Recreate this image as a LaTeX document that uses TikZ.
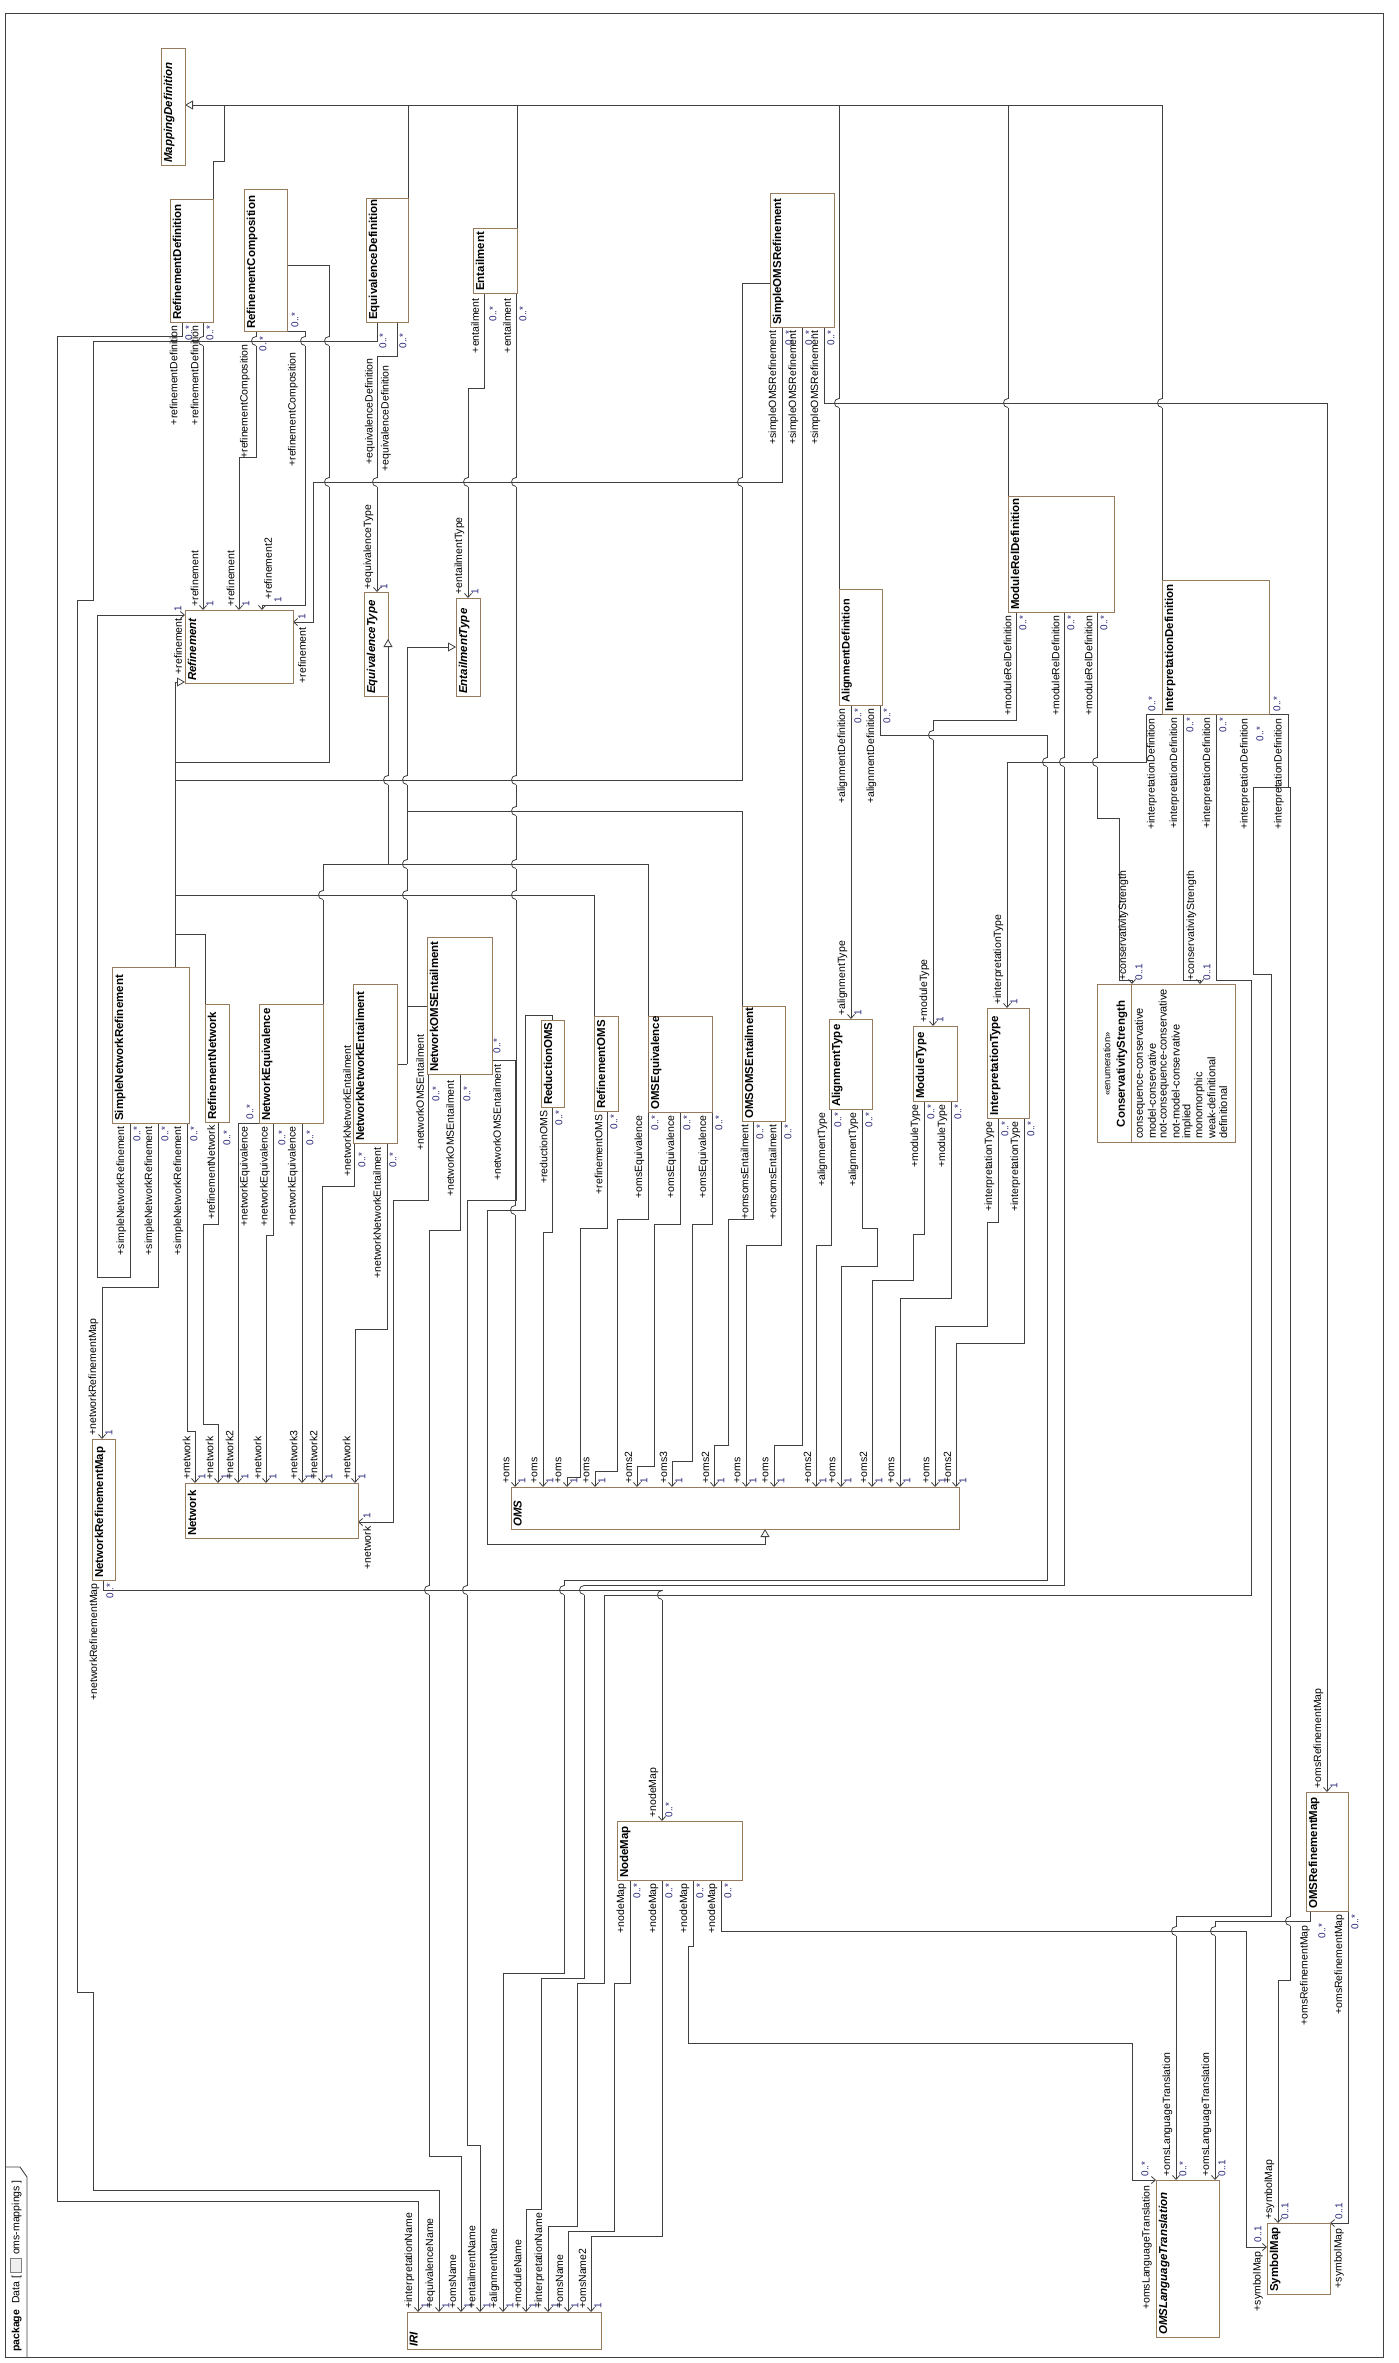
\documentclass[tikz,border=0pt]{standalone}
\usepackage{fontspec}
\setmainfont{Liberation Sans}
\usetikzlibrary{arrows.meta}
\pgfdeclarelayer{bg}
\pgfsetlayers{bg,main}
\definecolor{boxc}{RGB}{152,122,92}
\definecolor{linec}{RGB}{64,64,64}
\definecolor{multc}{RGB}{40,40,120}
\tikzset{
  cls/.style={draw=boxc,line width=0.9pt,fill=white,inner sep=0pt,outer sep=0pt,anchor=north west},
  conn/.style={draw=linec,line width=0.8pt},
  nav/.style={conn,-{Straight Barb[length=4pt,width=7pt]}},
  gen/.style={conn,-{Triangle[open,length=8pt,width=9pt,fill=white]}},
  role/.style={font=\fontsize{10.5}{12}\selectfont,inner sep=0.3pt,rotate=90},
  mult/.style={font=\fontsize{10}{12}\selectfont,inner sep=0.3pt,rotate=90,text=multc},
  cname/.style={font=\fontsize{11.5}{13}\selectfont\bfseries,inner sep=0.5pt,rotate=90,anchor=north west},
}
\newcommand\klass[6]{%
  \node[cls,minimum width={#4-#2},minimum height={#5-#3}] (#1) at (#2,#3) {};
  \node[cname] at ({#2+2},{#5-1.5}) {#6};}
\newcommand\LRu[3]{\node[role,anchor=west] at (#1,#2) {#3};}
\newcommand\LRd[3]{\node[role,anchor=east] at (#1,#2) {#3};}
\newcommand\LMu[3]{\node[mult,anchor=west] at (#1,#2) {#3};}
\newcommand\LMd[3]{\node[mult,anchor=east] at (#1,#2) {#3};}
\newcommand\Tend[4]{\LRu{{#1-8.5}}{{#2-3}}{#3}\LMu{{#1+7}}{{#2-3}}{#4}}
\newcommand\Send[4]{\LRd{{#1-8.5}}{{#2+3}}{#3}\LMd{{#1+7}}{{#2+3}}{#4}}
\newcommand\jmp[2]{%
  \fill[white] ({#1-1.3},{#2-4.5}) rectangle ({#1+1.3},{#2+4.5});
  \draw[conn] ({#1-1.6},#2) -- ({#1+1.6},#2);
  \draw[conn] (#1,{#2-4.5}) .. controls ({#1-6},{#2-4.5}) and ({#1-6},{#2+4.5}) .. (#1,{#2+4.5});}
\newcommand\pkgicon{{\setlength\fboxsep{0pt}\setlength\fboxrule{0.6pt}\raisebox{-2pt}{\fcolorbox{gray}{gray!12}{\rule{0pt}{11pt}\rule{14pt}{0pt}}}}}

\begin{document}
\begin{tikzpicture}[x=1pt,y=-1pt]
\useasboundingbox (0,0) rectangle (1398,2363);

% ---------------- classes ----------------
\klass{MD}{161}{48}{185}{165}{\itshape MappingDefinition}
\klass{RD}{170}{199}{213}{322}{RefinementDefinition}
\klass{RC}{244}{189}{287}{331}{RefinementComposition}
\klass{ED}{366}{198}{408}{322}{EquivalenceDefinition}
\klass{ENT}{473}{228}{517}{293}{Entailment}
\klass{SOR}{770}{193}{834}{327}{SimpleOMSRefinement}
\klass{REF}{185}{610}{293}{683}{\itshape Refinement}
\klass{EQT}{364}{592}{388}{696}{\itshape EquivalenceType}
\klass{ENTT}{456}{598}{480}{696}{\itshape EntailmentType}
\klass{SNR}{112}{967}{189}{1123}{SimpleNetworkRefinement}
\klass{RN}{205}{1004}{229}{1122}{RefinementNetwork}
\klass{NE}{259}{1004}{323}{1123}{NetworkEquivalence}
\klass{NNE}{353}{984}{397}{1143}{NetworkNetworkEntailment}
\klass{NOE}{427}{937}{492}{1074}{NetworkOMSEntailment}
\klass{ROMS}{541}{1020}{564}{1107}{ReductionOMS}
\klass{ROM}{594}{1016}{618}{1111}{RefinementOMS}
\klass{OEQ}{648}{1016}{712}{1112}{OMSEquivalence}
\klass{OOE}{742}{1006}{785}{1121}{OMSOMSEntailment}
\klass{AD}{839}{589}{882}{705}{\fontsize{10.9}{12}\selectfont AlignmentDefinition}
\klass{AT}{829}{1019}{872}{1109}{AlignmentType}
\klass{MT}{913}{1026}{957}{1101}{ModuleType}
\klass{MRD}{1008}{496}{1114}{612}{ModuleRelDefinition}
\klass{ID}{1162}{580}{1269}{714}{InterpretationDefinition}
\klass{IT}{987}{1008}{1029}{1118}{InterpretationType}
\klass{NET}{185}{1483}{358}{1538}{Network}
\klass{NRM}{92}{1439}{115}{1580}{NetworkRefinementMap}
\klass{OMS}{511}{1487}{959}{1529}{\itshape OMS}
\klass{NM}{617}{1821}{742}{1880}{NodeMap}
\klass{IRI}{407}{2312}{601}{2349}{\itshape IRI}
\klass{OLT}{1156}{2180}{1219}{2337}{\itshape OMSLanguageTranslation}
\klass{SM}{1267}{2223}{1330}{2294}{SymbolMap}
\klass{ORM}{1306}{1792}{1348}{1911}{OMSRefinementMap}

\node[cls,minimum width=138,minimum height=158] (CS) at (1097,984) {};
\draw[boxc,line width=0.9pt] (1131,984) -- (1131,1142);
\node[rotate=90,font=\fontsize{9.5}{11}\selectfont,inner sep=0pt] at (1107,1064) {«enumeration»};
\node[rotate=90,font=\fontsize{11.5}{13}\selectfont\bfseries,inner sep=0pt] at (1122,1064) {ConservativityStrength};
\foreach \lit [count=\i from 0] in {consequence-conservative,model-conservative,not-consequence-conservative,not-model-conservative,implied,monomorphic,weak-definitional,definitional}
  \node[rotate=90,anchor=west,font=\fontsize{11}{12}\selectfont,inner sep=0pt] at ({1140+11.9*\i},1139) {\lit};

% package tab text
\node[rotate=90,anchor=west,font=\fontsize{10.5}{12}\selectfont,inner sep=0pt] (pkg) at (16,2352) {\textbf{package}\ \ Data [ \pkgicon\ oms-mappings ]};

% ---------------- background: frame + connectors ----------------
\begin{pgfonlayer}{bg}
\fill[white] (0,0) rectangle (1398,2363);
\draw[linec,line width=0.9pt] (5,13) rectangle (1383,2357);
\draw[linec,line width=0.9pt] (5,2167) -- (20,2167) -- (27,2177) -- (27,2357);

% generalisations to MappingDefinition
\draw[gen] (RD.north -| 213,0) -- (213,161) -- (224,161) -- (224,105) -- (MD.east |- 0,105);
\draw[conn] (224,105) -- (1162,105) -- (ID.north -| 1162,0);
\draw[conn] (408,105) -- (ED.north -| 408,0);
\draw[conn] (517,105) -- (ENT.north -| 517,0);
\draw[conn] (839,105) -- (AD.north -| 839,0);
\draw[conn] (1008,105) -- (MRD.north -| 1008,0);
% generalisations to Refinement
\draw[gen] (SNR.north -| 175,0) -- (175,682) -- (REF.west |- 0,682);
\draw[conn] (175,762) -- (329,762) -- (329,265) -- (RC.east |- 0,265);
\draw[conn] (175,780) -- (742,780) -- (742,283) -- (SOR.west |- 0,283);
\draw[conn] (175,895) -- (594,895) -- (ROM.north -| 594,0);
\draw[conn] (175,934) -- (205,934) -- (RN.north -| 205,0);
% generalisations to EquivalenceType (lower part)
\draw[conn] (388,864) -- (EQT.south -| 388,0);
\draw[conn] (323,864) -- (648,864) -- (OEQ.north -| 648,0);
\draw[conn] (323,864) -- (NE.north -| 323,0);
% generalisations to EntailmentType
\draw[gen] (407,1064) -- (407,647) -- (ENTT.west |- 0,647);
\draw[conn] (407,811) -- (742,811) -- (OOE.north -| 742,0);
\draw[conn] (407,1006) -- (NOE.west |- 0,1006);
\draw[conn] (NNE.east |- 0,1064) -- (407,1064);
% generalisation ReductionOMS -> OMS
\draw[gen] (ROMS.north -| 552,0) -- (552,1015) -- (525,1015) -- (525,1210) -- (487,1210) -- (487,1544) -- (765,1544) -- (OMS.south -| 765,0);

% associations
\draw[nav] (RD.south -| 182,0) -- (182,336) -- (57,336) -- (57,2201) -- (418,2201) -- (IRI.north -| 418,0);
\draw[nav] (RD.south -| 203,0) -- (REF.north -| 203,0);
\draw[nav] (RC.south -| 256,0) -- (256,457) -- (239,457) -- (REF.north -| 239,0);
\draw[nav] (RC.south east) -- (305,331) -- (305,605) -- (262,605) -- (REF.north -| 262,0);
\draw[nav] (ED.south -| 377,0) -- (377,341) -- (93,341) -- (93,600) -- (77,600) -- (77,1992) -- (93,1992) -- (93,2190) -- (439,2190) -- (IRI.north -| 439,0);
\draw[nav] (ED.south -| 397,0) -- (397,356) -- (377,356) -- (EQT.north -| 377,0);
\draw[nav] (SOR.south -| 782,0) -- (782,482) -- (313,482) -- (313,622) -- (REF.east |- 0,622);
\draw[nav] (SOR.south -| 802,0) -- (802,1445) -- (774,1445) -- (OMS.north -| 774,0);
\draw[nav] (SOR.south -| 824,0) -- (824,403) -- (1327,403) -- (ORM.north -| 1327,0);
\draw[nav] (ENT.south -| 484,0) -- (484,388) -- (468,388) -- (ENTT.north -| 468,0);
\draw[nav] (ENT.south -| 516,0) -- (516,1200) -- (467,1200) -- (467,2145) -- (480,2145) -- (IRI.north -| 480,0);
\draw[nav] (NOE.east |- 0,1060) -- (515,1060) -- (OMS.north -| 515,0);
\draw[nav] (NOE.south -| 428,0) -- (428,1200) -- (393,1200) -- (393,1522) -- (NET.east |- 0,1522);
\draw[nav] (NOE.south -| 460,0) -- (460,1230) -- (429,1230) -- (429,2156) -- (461,2156) -- (IRI.north -| 461,0);
\draw[nav] (NNE.south -| 354,0) -- (354,1186) -- (322,1186) -- (NET.north -| 322,0);
\draw[nav] (NNE.south -| 387,0) -- (387,1329) -- (355,1329) -- (NET.north -| 355,0);
\draw[nav] (NE.south west) -- (238,1123) -- (NET.north -| 238,0);
\draw[nav] (NE.south -| 273,0) -- (273,1235) -- (266,1235) -- (NET.north -| 266,0);
\draw[nav] (NE.south -| 302,0) -- (NET.north -| 302,0);
\draw[nav] (RN.south -| 218,0) -- (218,1224) -- (203,1224) -- (203,1424) -- (218,1424) -- (NET.north -| 218,0);
\draw[nav] (SNR.south -| 130,0) -- (130,1277) -- (97,1277) -- (97,615) -- (REF.west |- 0,615);
\draw[nav] (SNR.south -| 158,0) -- (158,1287) -- (102,1287) -- (NRM.north -| 102,0);
\draw[nav] (SNR.south -| 187,0) -- (187,1431) -- (195,1431) -- (NET.north -| 195,0);
\draw[nav] (NRM.south -| 103,0) -- (103,1590) -- (662,1590) -- (NM.north -| 662,0);
\draw[nav] (OEQ.south west) -- (648,1219) -- (617,1219) -- (617,1471) -- (595,1471) -- (OMS.north -| 595,0);
\draw[nav] (OEQ.south -| 680,0) -- (680,1224) -- (654,1224) -- (654,1466) -- (637,1466) -- (OMS.north -| 637,0);
\draw[nav] (OEQ.south east) -- (712,1224) -- (692,1224) -- (692,1461) -- (672,1461) -- (OMS.north -| 672,0);
\draw[nav] (ROM.south -| 607,0) -- (607,1228) -- (580,1228) -- (580,1477) -- (567,1477) -- (OMS.north -| 567,0);
\draw[nav] (ROMS.south -| 552,0) -- (552,1232) -- (543,1232) -- (OMS.north -| 543,0);
\draw[nav] (OOE.south -| 753,0) -- (753,1219) -- (728,1219) -- (728,1445) -- (714,1445) -- (OMS.north -| 714,0);
\draw[nav] (OOE.south -| 781,0) -- (781,1245) -- (746,1245) -- (OMS.north -| 746,0);
\draw[nav] (AT.south -| 831,0) -- (831,1245) -- (816,1245) -- (OMS.north -| 816,0);
\draw[nav] (AT.south -| 862,0) -- (862,1228) -- (877,1228) -- (877,1266) -- (841,1266) -- (OMS.north -| 841,0);
\draw[nav] (MT.south -| 924,0) -- (924,1234) -- (913,1234) -- (913,1280) -- (872,1280) -- (OMS.north -| 872,0);
\draw[nav] (MT.south -| 951,0) -- (951,1298) -- (900,1298) -- (OMS.north -| 900,0);
\draw[nav] (IT.south -| 998,0) -- (998,1222) -- (987,1222) -- (987,1326) -- (935,1326) -- (OMS.north -| 935,0);
\draw[nav] (IT.south -| 1024,0) -- (1024,1343) -- (956,1343) -- (OMS.north -| 956,0);
\draw[nav] (AD.south -| 851,0) -- (AT.north -| 851,0);
\draw[nav] (AD.south -| 880,0) -- (880,735) -- (1047,735) -- (1047,1580) -- (564,1580) -- (564,1973) -- (503,1973) -- (IRI.north -| 503,0);
\draw[nav] (MRD.south -| 1016,0) -- (1016,720) -- (933,720) -- (MT.north -| 933,0);
\draw[nav] (MRD.south -| 1064,0) -- (1064,1585) -- (584,1585) -- (584,1978) -- (541,1978) -- (541,2209) -- (526,2209) -- (IRI.north -| 526,0);
\draw[nav] (MRD.south -| 1097,0) -- (1097,818) -- (1119,818) -- (1119,980) -- (1132,980) -- (CS.north -| 1132,0);
\draw[nav] (ID.south west) -- (1146,714) -- (1146,762) -- (1007,762) -- (IT.north -| 1007,0);
\draw[nav] (ID.south -| 1183,0) -- (1183,980) -- (1200,980) -- (CS.north -| 1200,0);
\draw[nav] (ID.south -| 1216,0) -- (1216,980) -- (1251,980) -- (1251,1595) -- (604,1595) -- (604,1983) -- (577,1983) -- (577,2226) -- (548,2226) -- (IRI.north -| 548,0);
\draw[nav] (ID.south east) -- (1288,714) -- (1288,787) -- (1253,787) -- (1253,974) -- (1271,974) -- (1271,1916) -- (1176,1916) -- (OLT.north -| 1176,0);
\draw[nav] (ID.south east) -- (1288,714) -- (1288,787) -- (1290,787) -- (1290,1980) -- (1278,1980) -- (SM.north -| 1278,0);
\draw[nav] (ORM.south -| 1310,0) -- (1310,1921) -- (1215,1921) -- (OLT.north -| 1215,0);
\draw[nav] (ORM.south east) -- (1348,2223) -- (SM.north east);
\draw[nav] (NM.south -| 693,0) -- (693,1946) -- (688,1946) -- (688,2043) -- (1132,2043) -- (1132,2180) -- (OLT.north west);
\draw[nav] (NM.south -| 721,0) -- (721,1931) -- (1246,1931) -- (1246,2247) -- (SM.west |- 0,2247);
\draw[nav] (NM.south -| 630,0) -- (630,1983) -- (614,1983) -- (614,2231) -- (568,2231) -- (IRI.north -| 568,0);
\draw[nav] (NM.south -| 662,0) -- (662,2236) -- (591,2236) -- (IRI.north -| 591,0);

% line jumps
\jmp{203}{341}\jmp{256}{341}\jmp{305}{341}\jmp{329}{341}
\jmp{329}{482}\jmp{377}{482}\jmp{468}{482}\jmp{516}{482}\jmp{742}{482}
\jmp{839}{403}\jmp{1008}{403}\jmp{1162}{403}
\jmp{388}{780}\jmp{407}{780}\jmp{516}{780}
\jmp{516}{811}
\jmp{407}{864}\jmp{516}{864}
\jmp{323}{895}\jmp{407}{895}\jmp{516}{895}
\jmp{515}{1210}
\jmp{429}{1590}\jmp{467}{1590}\jmp{564}{1590}\jmp{584}{1590}
\jmp{662}{1595}
\jmp{933}{735}
\jmp{1047}{762}\jmp{1064}{762}\jmp{1097}{762}
\jmp{1290}{1921}
\jmp{1176}{1931}\jmp{1215}{1931}
\end{pgfonlayer}

% generalisation head on EquivalenceType (runs along its right edge)
\draw[gen] (EQT.south east) -- (EQT.east |- 0,639);

% ---------------- end labels ----------------
% IRI
\Tend{418}{2312}{+interpretationName}{1}
\Tend{439}{2312}{+equivalenceName}{1}
\Tend{461}{2312}{+omsName}{1}
\Tend{480}{2312}{+entailmentName}{1}
\Tend{503}{2312}{+alignmentName}{1}
\Tend{526}{2312}{+moduleName}{1}
\Tend{548}{2312}{+interpretationName}{1}
\Tend{568}{2312}{+omsName}{1}
\Tend{591}{2312}{+omsName2}{1}
% OMS
\Tend{515}{1487}{+oms}{1}
\Tend{543}{1487}{+oms}{1}
\Tend{567}{1487}{+oms}{1}
\Tend{595}{1487}{+oms}{1}
\Tend{637}{1487}{+oms2}{1}
\Tend{672}{1487}{+oms3}{1}
\Tend{714}{1487}{+oms2}{1}
\Tend{746}{1487}{+oms}{1}
\Tend{774}{1487}{+oms}{1}
\Tend{816}{1487}{+oms2}{1}
\Tend{841}{1487}{+oms}{1}
\Tend{872}{1487}{+oms2}{1}
\Tend{900}{1487}{+oms}{1}
\Tend{935}{1487}{+oms}{1}
\Tend{956}{1487}{+oms2}{1}
% Network
\Tend{195}{1483}{+network}{1}
\Tend{218}{1483}{+network}{1}
\Tend{238}{1483}{+network2}{1}
\Tend{266}{1483}{+network}{1}
\Tend{302}{1483}{+network3}{1}
\Tend{322}{1483}{+network2}{1}
\Tend{355}{1483}{+network}{1}
\LMu{367}{1519}{1}\LRd{367}{1526}{+network}
% Refinement
\Tend{203}{610}{+refinement}{1}
\Tend{239}{610}{+refinement}{1}
\LRu{268}{600}{+refinement2}\LMu{278}{603}{1}
\LRd{178}{618}{+refinement}\LMu{178}{612}{1}
\LRd{302}{627}{+refinement}\LMu{302}{620}{1}
% other targets
\Tend{377}{593}{+equivalenceType}{1}
\Tend{468}{598}{+entailmentType}{1}
\Tend{851}{1019}{+alignmentType}{1}
\Tend{933}{1026}{+moduleType}{1}
\Tend{1007}{1008}{+interpretationType}{1}
\Tend{1132}{984}{+conservativityStrength}{0..1}
\Tend{1200}{984}{+conservativityStrength}{0..1}
\Tend{1327}{1792}{+omsRefinementMap}{1}
\Tend{662}{1821}{+nodeMap}{0..*}
\Tend{102}{1439}{+networkRefinementMap}{1}
\Tend{1176}{2180}{+omsLanguageTranslation}{0..*}
\Tend{1215}{2180}{+omsLanguageTranslation}{0..1}
\LMu{1145}{2177}{0..*}\LRd{1147}{2185}{+omsLanguageTranslation}
\Tend{1278}{2223}{+symbolMap}{0..1}
\LMu{1258}{2243}{0..1}\LRd{1258}{2251}{+symbolMap}
\LMu{1339}{2220}{0..1}\LRd{1339}{2228}{+symbolMap}

% source ends
\Send{182}{322}{+refinementDefinition}{0..*}
\Send{203}{322}{+refinementDefinition}{0..*}
\LRd{245}{344}{+refinementComposition}\LMd{263}{336}{0..*}
\LMu{295}{328}{0..*}\LRd{293}{352}{+refinementComposition}
\LRd{370}{358}{+equivalenceDefinition}\LMd{383}{333}{0..*}
\LRd{386}{365}{+equivalenceDefinition}\LMd{403}{333}{0..*}
\LRd{475}{298}{+entailment}\LMd{493}{306}{0..*}
\LRd{507}{298}{+entailment}\LMd{523}{306}{0..*}
\Send{782}{327}{+simpleOMSRefinement}{0..*}
\Send{802}{327}{+simpleOMSRefinement}{0..*}
\Send{824}{327}{+simpleOMSRefinement}{0..*}
\LRd{420}{1034}{+networkOMSEntailment}\LMd{436}{1086}{0..*}
\LRd{450}{1080}{+networkOMSEntailment}\LMd{467}{1086}{0..*}
\LMu{497}{1054}{0..*}\LRd{497}{1064}{+networkOMSEntailment}
\LRd{347}{1045}{+networkNetworkEntailment}\LMd{362}{1152}{0..*}
\LRd{377}{1147}{+networkNetworkEntailment}\LMd{393}{1152}{0..*}
\LMu{250}{1120}{0..*}\LRd{245}{1126}{+networkEquivalence}
\LRd{265}{1126}{+networkEquivalence}\LMd{282}{1130}{0..*}
\LRd{293}{1126}{+networkEquivalence}\LMd{310}{1130}{0..*}
\LRd{211}{1125}{+refinementNetwork}\LMd{227}{1130}{0..*}
\Send{130}{1123}{+simpleNetworkRefinement}{0..*}
\Send{158}{1123}{+simpleNetworkRefinement}{0..*}
\Send{187}{1123}{+simpleNetworkRefinement}{0..*}
\Send{552}{1107}{+reductionOMS}{0..*}
\Send{607}{1111}{+refinementOMS}{0..*}
\Send{648}{1112}{+omsEquivalence}{0..*}
\Send{680}{1112}{+omsEquivalence}{0..*}
\Send{712}{1112}{+omsEquivalence}{0..*}
\Send{753}{1121}{+omsomsEntailment}{0..*}
\Send{781}{1121}{+omsomsEntailment}{0..*}
\Send{831}{1109}{+alignmentType}{0..*}
\Send{862}{1109}{+alignmentType}{0..*}
\Send{924}{1101}{+moduleType}{0..*}
\Send{951}{1101}{+moduleType}{0..*}
\Send{998}{1118}{+interpretationType}{0..*}
\Send{1024}{1118}{+interpretationType}{0..*}
\Send{851}{705}{+alignmentDefinition}{0..*}
\Send{880}{705}{+alignmentDefinition}{0..*}
\Send{1016}{612}{+moduleRelDefinition}{0..*}
\Send{1064}{612}{+moduleRelDefinition}{0..*}
\Send{1097}{612}{+moduleRelDefinition}{0..*}
\LMu{1152}{712}{0..*}\LRd{1152}{718}{+interpretationDefinition}
\Send{1183}{714}{+interpretationDefinition}{0..*}
\Send{1216}{714}{+interpretationDefinition}{0..*}
\LRd{1245}{718}{+interpretationDefinition}\LMd{1260}{726}{0..*}
\LMu{1277}{712}{0..*}\LRd{1279}{718}{+interpretationDefinition}
\Send{630}{1880}{+nodeMap}{0..*}
\Send{662}{1880}{+nodeMap}{0..*}
\Send{693}{1880}{+nodeMap}{0..*}
\Send{721}{1880}{+nodeMap}{0..*}
\Send{103}{1580}{+networkRefinementMap}{0..*}
\LRd{1305}{1925}{+omsRefinementMap}\LMd{1322}{1923}{0..*}
\Send{1348}{1911}{+omsRefinementMap}{0..*}
\end{tikzpicture}
\end{document}
